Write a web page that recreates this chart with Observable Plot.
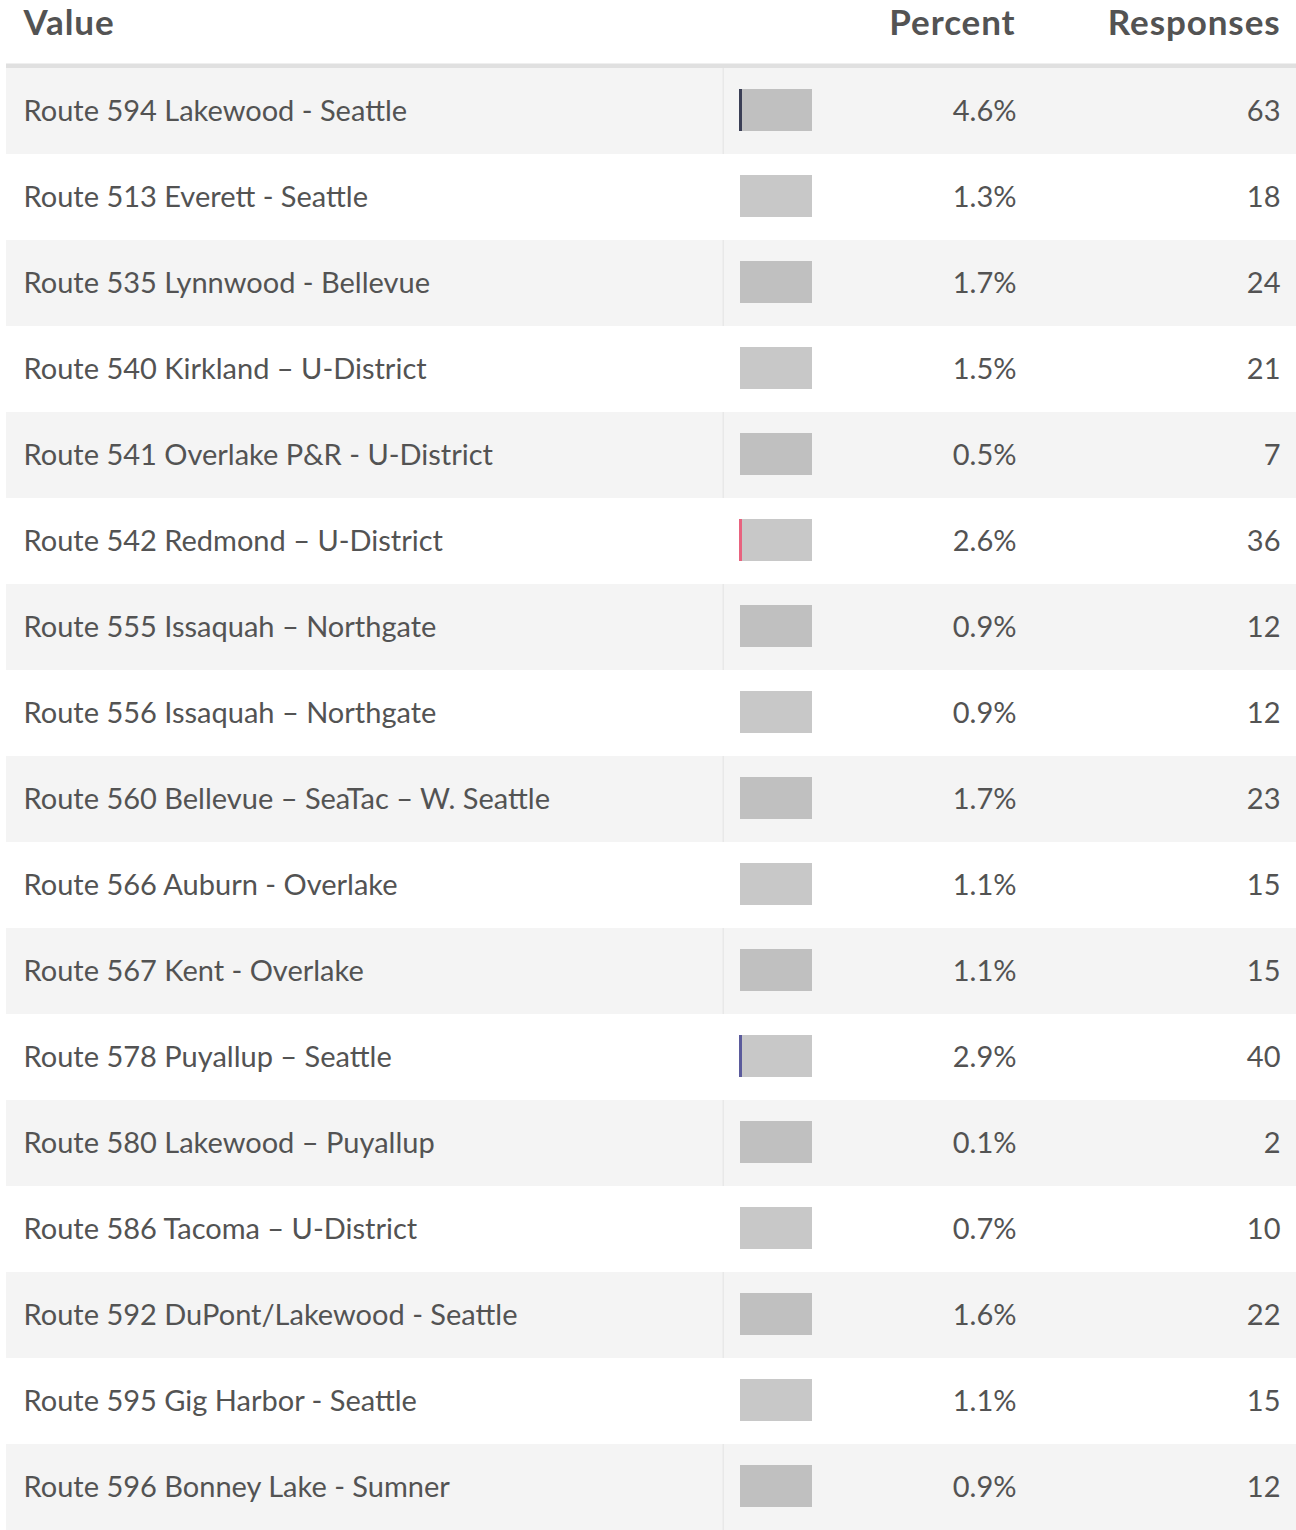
<!DOCTYPE html>
<html>
<head>
<meta charset="utf-8">
<script src="https://cdn.jsdelivr.net/npm/d3@7"></script>
<script src="https://cdn.jsdelivr.net/npm/@observablehq/plot@0.6"></script>
<style>
  html, body { margin: 0; padding: 0; background: #ffffff; overflow: hidden; }
  #chart svg { display: block; }
</style>
</head>
<body>
<div id="chart"></div>
<script>
const headers = ["Value", "Percent", "Responses"];
const routes = [
  "Route 594 Lakewood - Seattle",
  "Route 513 Everett - Seattle",
  "Route 535 Lynnwood - Bellevue",
  "Route 540 Kirkland \u2013 U-District",
  "Route 541 Overlake P&R - U-District",
  "Route 542 Redmond \u2013 U-District",
  "Route 555 Issaquah \u2013 Northgate",
  "Route 556 Issaquah \u2013 Northgate",
  "Route 560 Bellevue \u2013 SeaTac \u2013 W. Seattle",
  "Route 566 Auburn - Overlake",
  "Route 567 Kent - Overlake",
  "Route 578 Puyallup \u2013 Seattle",
  "Route 580 Lakewood \u2013 Puyallup",
  "Route 586 Tacoma \u2013 U-District",
  "Route 592 DuPont/Lakewood - Seattle",
  "Route 595 Gig Harbor - Seattle",
  "Route 596 Bonney Lake - Sumner"
];
const percents = [4.6, 1.3, 1.7, 1.5, 0.5, 2.6, 0.9, 0.9, 1.7, 1.1, 1.1, 2.9, 0.1, 0.7, 1.6, 1.1, 0.9];
const responses = [63, 18, 24, 21, 7, 36, 12, 12, 23, 15, 15, 40, 2, 10, 22, 15, 12];
const highlight = [
  "#3b3f56", null, null, null, null, "#e8637f", null, null, null,
  null, null, "#5b5b9c", null, null, null, null, null
];

const rows = routes.map((r, i) => ({
  route: r,
  percent: percents[i],
  responses: responses[i],
  color: highlight[i],
  shaded: i % 2 === 0
}));

const FONT = "Lato, 'Noto Sans', sans-serif";
const TEXT = "#535353";

const chart = Plot.plot({
  width: 1296,
  height: 1530,
  margin: 0,
  style: { fontFamily: FONT, background: "#ffffff" },
  x: { type: "identity" },
  y: { type: "band", domain: routes, range: [68, 1530], padding: 0, axis: null },
  marks: [
    // alternating row shading
    Plot.barX(rows.filter(d => d.shaded), { y: "route", x1: 6, x2: 1296, fill: "#f4f4f4" }),
    // column divider on shaded rows
    Plot.barX(rows.filter(d => d.shaded), { y: "route", x1: 722.5, x2: 724, fill: "#e8e8e8" }),
    // header underline
    Plot.barX([routes[0]], { y: d => d, x1: 6, x2: 1296, insetTop: -4.5, insetBottom: 86, fill: "#e0e0e0" }),
    // gray track boxes
    Plot.barX(rows, { y: "route", x1: 740, x2: 812, insetTop: 21, insetBottom: 23, fill: "#363636", fillOpacity: 0.273 }),
    // colored slivers
    Plot.barX(rows.filter(d => d.color), { y: "route", x1: 739, x2: 742, insetTop: 21, insetBottom: 23, fill: d => d.color }),
    // labels
    Plot.text(rows, { y: "route", x: 23, text: "route", textAnchor: "start", fontSize: 29, fill: TEXT }),
    Plot.text(rows, { y: "route", x: 1016, text: d => d.percent.toFixed(1) + "%", textAnchor: "end", fontSize: 29, fill: TEXT }),
    Plot.text(rows, { y: "route", x: 1280, text: d => String(d.responses), textAnchor: "end", fontSize: 29, fill: TEXT }),
    // headers
    Plot.text([headers[0]], { x: 23, frameAnchor: "top", lineAnchor: "middle", dy: 23, text: d => d, textAnchor: "start", fontSize: 35, fontWeight: "bold", fill: TEXT }),
    Plot.text([headers[1]], { x: 1015, frameAnchor: "top", lineAnchor: "middle", dy: 23, text: d => d, textAnchor: "end", fontSize: 35, fontWeight: "bold", fill: TEXT }),
    Plot.text([headers[2]], { x: 1280, frameAnchor: "top", lineAnchor: "middle", dy: 23, text: d => d, textAnchor: "end", fontSize: 35, fontWeight: "bold", fill: TEXT })
  ]
});
chart.querySelectorAll("text").forEach(t => {
  if (t.getAttribute("font-weight") === "bold" || t.closest("[font-weight='bold']")) t.style.letterSpacing = "0.9px";
});
document.getElementById("chart").appendChild(chart);
</script>
</body>
</html>
